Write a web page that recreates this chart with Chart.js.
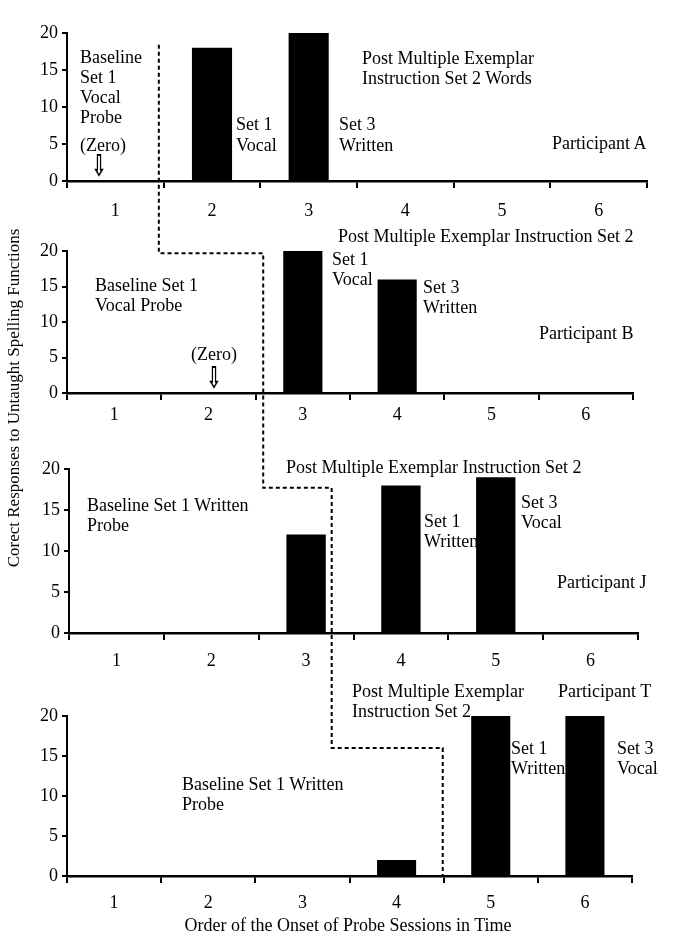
<!DOCTYPE html>
<html>
<head>
<meta charset="utf-8">
<script src="https://cdn.jsdelivr.net/npm/chart.js@4.4.1/dist/chart.umd.min.js"></script>
<style>
  body { margin: 0; background: #fff; }
  #page { position: relative; width: 683px; height: 949px; background: #fff; overflow: hidden;
          font-family: "Liberation Serif", "Times New Roman", serif; color: #000; }
  #page canvas { position: absolute; left: 0; }
  .txt { position: absolute; font-size: 18px; line-height: 20px; white-space: nowrap; }
  .arrow { position: absolute; font-family: "DejaVu Sans", sans-serif; font-size: 30px; line-height: 30px;
           width: 30px; text-align: center; font-weight: bold; transform: scaleX(0.6); transform-origin: center top; }
  #ytitle { position: absolute; left: 14px; top: 398px; font-size: 17px; white-space: nowrap;
            transform: translate(-50%, -50%) rotate(-90deg); }
  #phase { position: absolute; left: 0; top: 0; }
</style>
</head>
<body>
<div id="page">
  <canvas id="panelA"></canvas>
  <canvas id="panelB"></canvas>
  <canvas id="panelJ"></canvas>
  <canvas id="panelT"></canvas>
  <svg id="phase" width="683" height="949"><path id="phasePath" fill="none" stroke="#000" stroke-width="2" stroke-dasharray="4 3"/></svg>

  <!-- Participant A -->
  <div class="txt" style="left:80px;top:47px">Baseline<br>Set 1<br>Vocal<br>Probe</div>
  <div class="txt" style="left:80px;top:135px">(Zero)</div>
  <div class="arrow" style="left:84px;top:151px">⇩</div>
  <div class="txt" style="left:236px;top:114px;line-height:21px">Set 1<br>Vocal</div>
  <div class="txt" style="left:339px;top:114px;line-height:21px">Set 3<br>Written</div>
  <div class="txt" style="left:362px;top:48px">Post Multiple Exemplar<br>Instruction Set 2 Words</div>
  <div class="txt" style="left:552px;top:133px">Participant A</div>

  <!-- Participant B -->
  <div class="txt" style="left:338px;top:226px">Post Multiple Exemplar Instruction Set 2</div>
  <div class="txt" style="left:332px;top:249px">Set 1<br>Vocal</div>
  <div class="txt" style="left:423px;top:277px">Set 3<br>Written</div>
  <div class="txt" style="left:95px;top:275px">Baseline Set 1<br>Vocal Probe</div>
  <div class="txt" style="left:191px;top:344px">(Zero)</div>
  <div class="arrow" style="left:199px;top:363px">⇩</div>
  <div class="txt" style="left:539px;top:323px">Participant B</div>

  <!-- Participant J -->
  <div class="txt" style="left:286px;top:457px">Post Multiple Exemplar Instruction Set 2</div>
  <div class="txt" style="left:87px;top:495px">Baseline Set 1 Written<br>Probe</div>
  <div class="txt" style="left:424px;top:511px">Set 1<br>Written</div>
  <div class="txt" style="left:521px;top:492px">Set 3<br>Vocal</div>
  <div class="txt" style="left:557px;top:572px">Participant J</div>

  <!-- Participant T -->
  <div class="txt" style="left:352px;top:681px">Post Multiple Exemplar<br>Instruction Set 2</div>
  <div class="txt" style="left:558px;top:681px">Participant T</div>
  <div class="txt" style="left:511px;top:738px">Set 1<br>Written</div>
  <div class="txt" style="left:617px;top:738px">Set 3<br>Vocal</div>
  <div class="txt" style="left:182px;top:774px">Baseline Set 1 Written<br>Probe</div>

  <div class="txt" style="left:348px;top:915px;transform:translateX(-50%)">Order of the Onset of Probe Sessions in Time</div>
  <div id="ytitle">Corect Responses to Untaught Spelling Functions</div>
</div>

<script>
  // probe sessions (x categories)
  const sessions = ["1", "2", "3", "4", "5", "6"];

  // correct responses per session, one list per participant
  const participantA = [0, 18, 20, null, null, null];
  const participantB = [0, 0, 20, 16, null, null];
  const participantJ = [0, 0, 12, 18, 19, null];
  const participantT = [0, 0, 0, 2, 20, 20];

  // y axis ticks
  const yMin = 0;
  const yMax = 20;
  const yStep = 5;

  // phase change line: corner points as (panel, category position, response level)
  const phaseLine = [
    { panel: 0, at: 0.45, level: 18.4 },
    { panel: 1, at: 1.58, level: 19.7 },
    { panel: 2, at: 2.27, level: 17.7 },
    { panel: 3, at: 3.49, level: 16 },
    { panel: 3, at: 3.49, level: 0 },
  ];

  // where each panel's plot area sits on the page
  const panels = [
    { id: "panelA", values: participantA, left: 67, right: 647, top: 33, bottom: 181, labelPad: 12 },
    { id: "panelB", values: participantB, left: 67, right: 633, top: 251, bottom: 393, labelPad: 4 },
    { id: "panelJ", values: participantJ, left: 69, right: 638, top: 469, bottom: 633, labelPad: 10 },
    { id: "panelT", values: participantT, left: 67, right: 632, top: 716, bottom: 876, labelPad: 9 },
  ];

  const fontSerif = { family: "Liberation Serif", size: 18 };

  function makePanel(p) {
    const canvas = document.getElementById(p.id);
    const canvasTop = p.top - 25;
    const height = p.bottom - canvasTop + 50;
    canvas.width = 683;
    canvas.height = height;
    canvas.style.top = canvasTop + "px";
    p.canvasTop = canvasTop;

    return new Chart(canvas, {
      type: "bar",
      data: {
        labels: sessions,
        datasets: [
          {
            data: p.values,
            backgroundColor: "#000",
            borderWidth: 0,
            barPercentage: 0.415,
            categoryPercentage: 1,
          },
        ],
      },
      options: {
        responsive: false,
        animation: false,
        devicePixelRatio: 1,
        layout: { padding: { top: p.top - canvasTop, right: 683 - p.right, left: 0, bottom: 0 } },
        plugins: { legend: { display: false }, tooltip: { enabled: false } },
        scales: {
          x: {
            grid: { drawOnChartArea: false, tickLength: 7, color: "#000", lineWidth: 2, offset: true },
            border: { color: "#000", width: 2.5 },
            ticks: { color: "#000", font: fontSerif, padding: p.labelPad },
            afterFit: (s) => { s.height = height - (p.bottom - canvasTop); },
          },
          y: {
            min: yMin,
            max: yMax,
            ticks: { stepSize: yStep, color: "#000", font: fontSerif, padding: 4 },
            grid: { drawOnChartArea: false, tickLength: 5, color: "#000", lineWidth: 2 },
            border: { color: "#000", width: 2 },
            afterFit: (s) => { s.width = p.left; },
          },
        },
      },
    });
  }

  const charts = panels.map(makePanel);

  function px(i, at) { return charts[i].scales.x.getPixelForValue(at); }
  function py(i, level) { return charts[i].scales.y.getPixelForValue(level) + panels[i].canvasTop; }

  let x = px(phaseLine[0].panel, phaseLine[0].at);
  let d = "M" + x + " " + py(phaseLine[0].panel, phaseLine[0].level);
  phaseLine.slice(1).forEach((s) => {
    d += " V" + py(s.panel, s.level);
    x = px(s.panel, s.at);
    d += " H" + x;
  });
  document.getElementById("phasePath").setAttribute("d", d);
</script>
</body>
</html>
